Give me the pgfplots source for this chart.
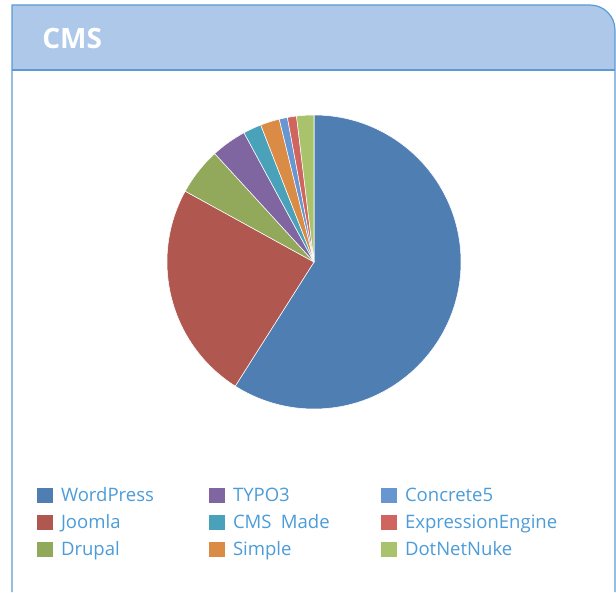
\documentclass[border=0pt]{standalone}
\usepackage{pgfplots}
\pgfplotsset{compat=1.18}
\usepackage{pgfplotstable}
\usepackage{fontspec}
\setmainfont{Open Sans}
\definecolor{frameblue}{HTML}{5B9BD5}
\definecolor{headerfill}{HTML}{AEC8E9}
\definecolor{legendtext}{HTML}{4B9CD8}
\definecolor{cWP}{HTML}{4F7FB2}
\definecolor{cJO}{HTML}{B05750}
\definecolor{cDR}{HTML}{92A95C}
\definecolor{cTY}{HTML}{7F66A0}
\definecolor{cCM}{HTML}{4AA1BA}
\definecolor{cSI}{HTML}{DA8B45}
\definecolor{cCF}{HTML}{6796D0}
\definecolor{cEE}{HTML}{D0655F}
\definecolor{cDN}{HTML}{A8C36C}

\pgfplotstableread{
name value color
WordPress 59 cWP
Joomla 24 cJO
Drupal 5.2 cDR
TYPO3 3.9 cTY
CMSMade 2 cCM
Simple 2.1 cSI
Concrete5 0.9 cCF
ExpressionEngine 1 cEE
DotNetNuke 1.9 cDN
}\cmsdata

\begin{document}
\begin{tikzpicture}[x=0.75pt,y=0.75pt]
\path[use as bounding box] (0,0) rectangle (616,592);
\fill[headerfill] (12,522) -- (12,587) -- (590,587) arc[start angle=90,end angle=0,radius=25] -- (615,522) -- cycle;
\draw[frameblue, line width=0.9pt] (12,0) -- (12,587) -- (590,587) arc[start angle=90,end angle=0,radius=25] -- (615,0);
\draw[frameblue, line width=0.9pt] (12,522) -- (615,522);
\node[anchor=base west, inner sep=0pt, text=white, font=\bfseries\fontsize{21}{25}\selectfont] at (42,543.5) {CMS};

\begin{axis}[hide axis, x=0.75pt, y=0.75pt,
  xmin=-160, xmax=160, ymin=-160, ymax=160,
  anchor=origin, at={(314,330)}, clip=false,
  legend columns=3,
  legend cell align=left,
  legend style={at={(axis cs:-277,-225)}, anchor=north west, draw=none, fill=none,
    inner sep=0pt, outer sep=0pt, row sep=7.25pt, column sep=0pt,
    font=\fontsize{13.9}{16}\selectfont, text=legendtext,
    nodes={inner sep=0pt, text width=111pt, align=left, text height=11pt, text depth=2pt, text=legendtext}},
  legend image code/.code={\fill[#1] (0pt,-5.6pt) rectangle (12pt,5.6pt); \path (18pt,0pt);},
]
\def\angleacc{90}
\pgfplotsforeachungrouped \rowidx in {0,...,8}{%
  \pgfplotstablegetelem{\rowidx}{value}\of\cmsdata \let\sliceval\pgfplotsretval
  \pgfplotstablegetelem{\rowidx}{color}\of\cmsdata \let\slicecol\pgfplotsretval
  \pgfmathsetmacro\endang{\angleacc-3.6*\sliceval}%
  \edef\temp{\noexpand\fill[fill=\slicecol, draw=white, line width=0.4pt, line join=round] (axis cs:0,0) -- ++(\angleacc:110.25pt) arc[start angle=\angleacc, end angle=\endang, radius=110.25pt] -- cycle;}%
  \temp
  \let\angleacc\endang
}
\addlegendimage{fill=cWP, draw=none}\addlegendentry{WordPress}
\addlegendimage{fill=cTY, draw=none}\addlegendentry{TYPO3}
\addlegendimage{fill=cCF, draw=none}\addlegendentry{Concrete5}
\addlegendimage{fill=cJO, draw=none}\addlegendentry{Joomla}
\addlegendimage{fill=cCM, draw=none}\addlegendentry{CMS\hspace{0.5em}Made}
\addlegendimage{fill=cEE, draw=none}\addlegendentry{ExpressionEngine}
\addlegendimage{fill=cDR, draw=none}\addlegendentry{Drupal}
\addlegendimage{fill=cSI, draw=none}\addlegendentry{Simple}
\addlegendimage{fill=cDN, draw=none}\addlegendentry{DotNetNuke}
\end{axis}
\end{tikzpicture}
\end{document}
